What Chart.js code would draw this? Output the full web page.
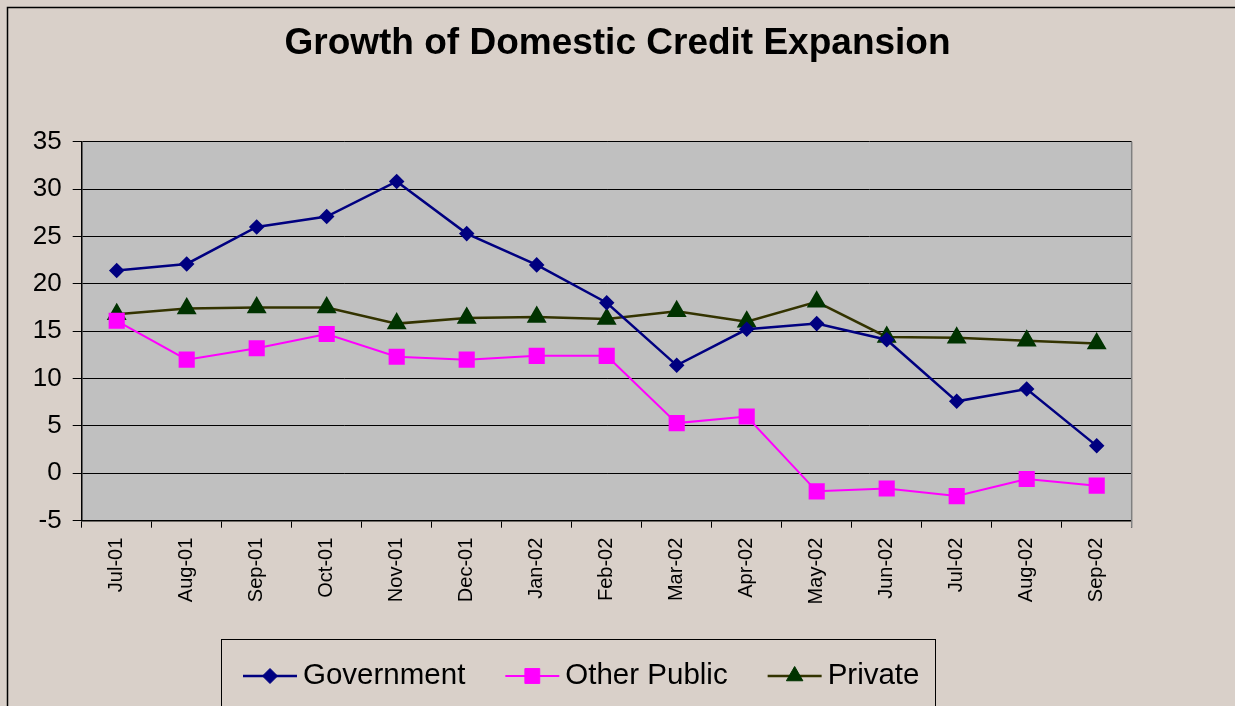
<!DOCTYPE html>
<html>
<head>
<meta charset="utf-8">
<title>Growth of Domestic Credit Expansion</title>
<script src="https://cdn.jsdelivr.net/npm/chart.js@4.4.1/dist/chart.umd.min.js"></script>
<style>
  html, body { margin: 0; padding: 0; background: #d9d0c9; overflow: hidden; }
  canvas { display: block; }
</style>
</head>
<body>
<canvas id="creditChart" width="1235" height="706"></canvas>
<script>
// values
const months = ['Jul-01', 'Aug-01', 'Sep-01', 'Oct-01', 'Nov-01', 'Dec-01', 'Jan-02', 'Feb-02',
  'Mar-02', 'Apr-02', 'May-02', 'Jun-02', 'Jul-02', 'Aug-02', 'Sep-02'];
const government = [21.4, 22.1, 26.0, 27.1, 30.8, 25.3, 22.0, 18.0, 11.4, 15.2, 15.8, 14.1, 7.6, 8.9, 2.9];
const otherPublic = [16.1, 12.0, 13.2, 14.7, 12.3, 12.0, 12.4, 12.4, 5.3, 6.0, -1.9, -1.6, -2.4, -0.6, -1.3];
const privateSector = [16.8, 17.4, 17.5, 17.5, 15.8, 16.4, 16.5, 16.3, 17.1, 16.0, 18.1, 14.4, 14.3, 14.0, 13.7];
const yTicks = { min: -5, max: 35, step: 5 };

const FONT = '"Liberation Sans", Arial, sans-serif';
const BG = '#d9d0c9';

// background, outer frame and grey plot area
const excelFrame = {
  id: 'excelFrame',
  beforeDraw(chart) {
    const ctx = chart.ctx;
    const a = chart.chartArea;
    ctx.save();
    ctx.fillStyle = BG;
    ctx.fillRect(0, 0, chart.width, chart.height);
    ctx.strokeStyle = '#000';
    ctx.lineWidth = 1.5;
    ctx.strokeRect(7.5, 7.5, chart.width + 20, chart.height + 20);
    ctx.fillStyle = '#c0c0c0';
    ctx.fillRect(a.left, a.top, a.right - a.left, a.bottom - a.top);
    ctx.restore();
  },
  beforeDatasetsDraw(chart) {
    const ctx = chart.ctx;
    const a = chart.chartArea;
    ctx.save();
    ctx.strokeStyle = '#808080';
    ctx.lineWidth = 1.5;
    ctx.beginPath();
    ctx.moveTo(a.right, a.top);
    ctx.lineTo(a.right, a.bottom + 7);
    ctx.stroke();
    ctx.restore();
  }
};

// Excel style legend: line with marker, inside a box cut off by the page edge
const legendMarkerRadius = { rectRot: 7.5, rect: 10.5, triangle: 9.5 };
const excelLegend = {
  id: 'excelLegend',
  afterDraw(chart) {
    const ctx = chart.ctx;
    ctx.save();
    ctx.fillStyle = BG;
    ctx.fillRect(221, 639, 714, 80);
    ctx.strokeStyle = '#000';
    ctx.lineWidth = 1;
    ctx.strokeRect(221.5, 639.5, 714, 80);
    ctx.font = '29.5px ' + FONT;
    ctx.textBaseline = 'middle';
    const y = 676;
    let x = 243;
    chart.data.datasets.forEach(ds => {
      ctx.strokeStyle = ds.borderColor;
      ctx.lineWidth = ds.borderWidth;
      ctx.beginPath();
      ctx.moveTo(x, y);
      ctx.lineTo(x + 54, y);
      ctx.stroke();
      ctx.fillStyle = ds.pointBackgroundColor;
      ctx.strokeStyle = ds.pointBorderColor;
      ctx.lineWidth = 1;
      Chart.helpers.drawPoint(ctx, {
        pointStyle: ds.pointStyle,
        radius: legendMarkerRadius[ds.pointStyle],
        borderWidth: 1
      }, x + 27, y);
      ctx.fillStyle = '#000';
      ctx.fillText(ds.label, x + 60, y);
      x += 60 + ctx.measureText(ds.label).width + 40;
    });
    ctx.restore();
  }
};

const ctx = document.getElementById('creditChart').getContext('2d');

new Chart(ctx, {
  type: 'line',
  data: {
    labels: months,
    datasets: [
      {
        label: 'Government',
        data: government,
        borderColor: '#000080',
        borderWidth: 2.5,
        pointStyle: 'rectRot',
        pointRadius: 6,
        pointBackgroundColor: '#000080',
        pointBorderColor: '#000080',
        tension: 0
      },
      {
        label: 'Other Public',
        data: otherPublic,
        borderColor: '#ff00ff',
        borderWidth: 2,
        pointStyle: 'rect',
        pointRadius: 10,
        pointBackgroundColor: '#ff00ff',
        pointBorderColor: '#ff00ff',
        tension: 0
      },
      {
        label: 'Private',
        data: privateSector,
        borderColor: '#333300',
        borderWidth: 2.5,
        pointStyle: 'triangle',
        pointRadius: 9,
        pointBackgroundColor: '#003300',
        pointBorderColor: '#003300',
        tension: 0
      }
    ]
  },
  options: {
    responsive: false,
    animation: false,
    layout: {
      padding: { left: 0, right: 0, top: 0, bottom: 0 }
    },
    plugins: {
      legend: { display: false },
      tooltip: { enabled: false },
      title: {
        display: true,
        text: 'Growth of Domestic Credit Expansion',
        color: '#000',
        font: { family: FONT, size: 37, weight: 'bold' },
        padding: { top: 22, bottom: 75.3 }
      }
    },
    scales: {
      x: {
        offset: true,
        grid: {
          offset: true,
          drawOnChartArea: false,
          drawTicks: true,
          tickLength: 7,
          color: '#000'
        },
        border: { color: '#000', width: 1.5 },
        ticks: {
          color: '#000',
          font: { family: FONT, size: 20 },
          minRotation: 90,
          maxRotation: 90,
          autoSkip: false,
          padding: 10
        },
        afterFit(scale) { scale.height = 185.3; }
      },
      y: {
        min: yTicks.min,
        max: yTicks.max,
        grid: {
          color: '#000',
          lineWidth: 1,
          drawTicks: true,
          tickLength: 9,
          tickColor: '#000'
        },
        border: { color: '#000', width: 1.5 },
        ticks: {
          stepSize: yTicks.step,
          color: '#000',
          font: { family: FONT, size: 26 },
          padding: 11
        },
        afterFit(scale) { scale.width = 81.7; }
      },
      // empty right axis only reserves the space right of the plot area
      spacer: {
        position: 'right',
        min: 0,
        max: 1,
        grid: { display: false },
        border: { display: false },
        ticks: { display: false },
        afterFit(scale) { scale.width = 103.3; }
      }
    }
  },
  plugins: [excelFrame, excelLegend]
});
</script>
</body>
</html>
